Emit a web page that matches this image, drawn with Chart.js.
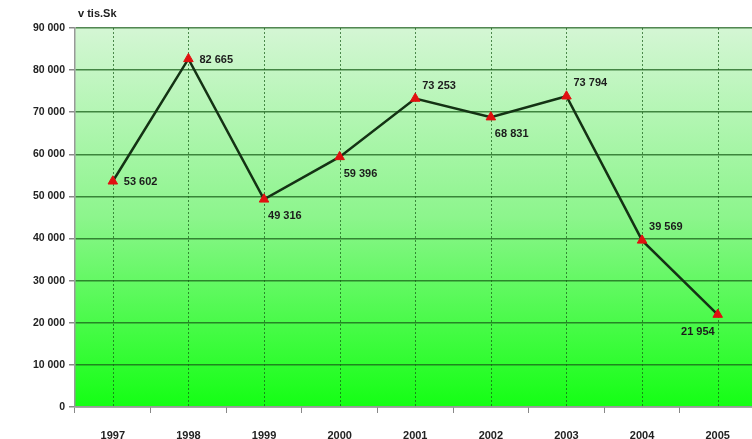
<!DOCTYPE html>
<html>
<head>
<meta charset="utf-8">
<script src="https://cdn.jsdelivr.net/npm/chart.js@4"></script>
<style>
 html,body{margin:0;background:#fff;overflow:hidden;}
 #wrap{width:762px;height:439px;}
</style>
</head>
<body>
<div id="wrap"><canvas id="chart_paper"></canvas></div>
<script>
var years=["1997","1998","1999","2000","2001","2002","2003","2004","2005"];
var values=[53602,82665,49316,59396,73253,68831,73794,39569,21954];
var yTicks=[0,10000,20000,30000,40000,50000,60000,70000,80000,90000];
var unitLabel="v tis.Sk";
// where each value label sits relative to its point
var labelPos=["right","right","below","below","above","below","above","above","belowleft"];

function fmt(v)
{
 return v.toString().replace(/\B(?=(\d{3})+(?!\d))/g," ");
}

var bgPlugin={
 id:'bg',
 beforeDraw:function(chart){
  var a=chart.chartArea,ctx=chart.ctx;
  var g=ctx.createLinearGradient(0,a.top,0,a.bottom);
  g.addColorStop(0,"#d4f6d4");
  g.addColorStop(0.5,"#8cf58c");
  g.addColorStop(1,"#14ff14");
  ctx.save();
  ctx.fillStyle=g;
  ctx.fillRect(a.left,a.top,a.right-a.left,a.bottom-a.top);
  ctx.restore();
 },
 beforeDatasetsDraw:function(chart){
  // dotted lines at the category centres
  var a=chart.chartArea,ctx=chart.ctx,x=chart.scales.x;
  ctx.save();
  ctx.strokeStyle="rgba(20,90,20,0.7)";
  ctx.lineWidth=1;
  ctx.setLineDash([2,2]);
  for(var i=0;i<years.length;i++){
   var px=Math.round(x.getPixelForValue(i))+0.5;
   ctx.beginPath();ctx.moveTo(px,a.top);ctx.lineTo(px,a.bottom);ctx.stroke();
  }
  ctx.restore();
 },
 afterDraw:function(chart){
  var ctx=chart.ctx,meta=chart.getDatasetMeta(0);
  ctx.save();
  ctx.font="bold 11px 'Liberation Sans', Arial, sans-serif";
  ctx.fillStyle="#1c1c1c";
  ctx.textBaseline="middle";
  ctx.textAlign="left";
  ctx.fillText(unitLabel,chart.chartArea.left+3,14);
  for(var i=0;i<values.length;i++){
   var p=meta.data[i],t=fmt(values[i]);
   var pos=labelPos[i];
   if(pos=="right"){ctx.textAlign="left";ctx.fillText(t,p.x+11,p.y+1);}
   else if(pos=="below"){ctx.textAlign="left";ctx.fillText(t,p.x+4,p.y+17);}
   else if(pos=="above"){ctx.textAlign="left";ctx.fillText(t,p.x+7,p.y-13);}
   else {ctx.textAlign="right";ctx.fillText(t,p.x-3,p.y+17);}
  }
  ctx.restore();
 }
};

var chartid=document.getElementById("chart_paper");
var chart_obj=new Chart(chartid,{
  type:'line',
  data:
  {
   labels:years,
   datasets:[{
     data:values,
     borderColor:"#143214",
     borderWidth:2.5,
     pointStyle:'triangle',
     pointRadius:5.5,
     pointBackgroundColor:"#e01010",
     pointBorderColor:"#e01010",
     pointBorderWidth:1,
     tension:0,
     fill:false,
     clip:false
   }]
  },
  options:
  {
   responsive:true,
   maintainAspectRatio:false,
   animation:false,
   layout:{padding:{top:28,right:0,left:0,bottom:0}},
   plugins:{legend:{display:false},tooltip:{enabled:false}},
   scales:
   {
    x:{
     offset:true,
     grid:{offset:true,drawOnChartArea:false,color:"#888",tickLength:6},
     border:{color:"#999",width:1.5},
     ticks:{color:"#222",padding:16,font:{family:"'Liberation Sans', Arial",size:11,weight:'bold'}},
     afterFit:function(s){s.height=32;}
    },
    y:{
     min:0,max:90000,
     afterBuildTicks:function(s){s.ticks=yTicks.map(function(v){return {value:v};});},
     grid:{color:"rgba(25,95,25,0.75)",lineWidth:1.5,tickLength:6,tickColor:"#888"},
     border:{color:"#999",width:1.5},
     ticks:{color:"#222",padding:4,font:{family:"'Liberation Sans', Arial",size:10.5,weight:'bold'},
      callback:function(v){return fmt(v);}},
     afterFit:function(s){s.width=75;}
    }
   }
  },
  plugins:[bgPlugin]
});
</script>
</body>
</html>
